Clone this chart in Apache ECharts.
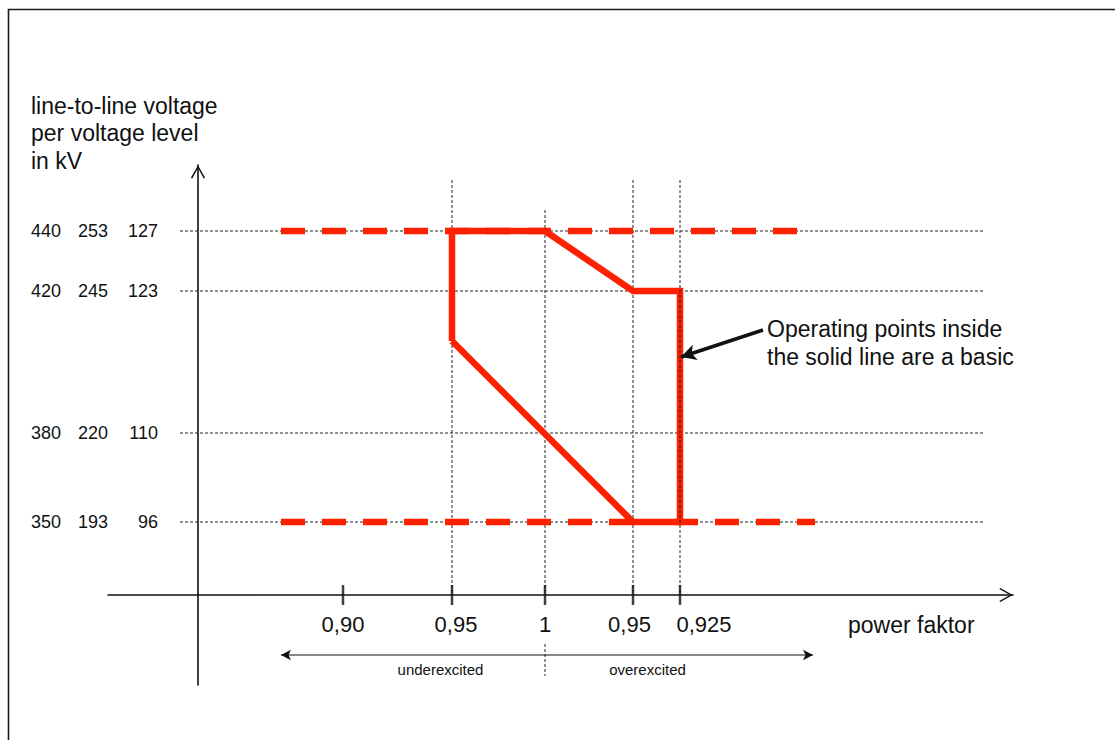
<!DOCTYPE html>
<html><head><meta charset="utf-8">
<script src="https://cdn.jsdelivr.net/npm/echarts@6/dist/echarts.min.js"></script>
<style>html,body{margin:0;padding:0;background:#fff}#c{width:1115px;height:740px}</style>
</head><body><div id="c"></div>
<script>
// ---- data (schematic axis coordinates: the source drawing is not to scale) ----
const pfLabels = ['0,90', '0,95', '1', '0,95', '0,925'];
const pfPos = [145, 254, 347, 435, 482];          // power-factor ticks on the schematic x axis
const levelPos = [364, 304, 162, 73];              // voltage levels on the schematic y axis
const kvLevel380 = ['440', '420', '380', '350'];
const kvLevel220 = ['253', '245', '220', '193'];
const kvLevel110 = ['127', '123', '110', '96'];
const kneePos = 254;                               // lower corner on the 0,95 underexcited line
const dashRangeTop = [83, 599];                    // extent of the dashed red top limit
const dashRangeBottom = [[83, 435], [476, 617]];   // extents of the dashed red bottom limit
const gridExtentX = [-18, 787];
const vGridTop = [415, 385, 415, 415];             // top of the vertical guides (0,95 / 1 / 0,95 / 0,925)
const oneGuideBelow = [-49, -81];
const axisRangeX = [-90, 815];
const axisRangeY = [-90, 430];
const excitationY = -60;
const underTip = 83, overTip = 615;
const noteFrom = [565, 265], noteTip = [483, 238];

const FONT = '"Liberation Sans", Arial, sans-serif';
const RED = '#ff2000';
const INK = '#111';

const [u90, u95, one, o95, o925] = pfPos;
const [L440, L420, L380, L350] = levelPos;

const boundary = [
  [u95, kneePos], [u95, L440], [one, L440], [o95, L420],
  [o925, L420], [o925, L350], [o95, L350], [u95, kneePos]
];

function seg(data, lineStyle, z) {
  return { type: 'line', data, symbol: 'none', silent: true, animation: false, clip: false, z, lineStyle };
}
const series = [];
const guide = { color: '#222', width: 1, type: [3, 2] };
// horizontal guides
levelPos.forEach(y => series.push(seg([[gridExtentX[0], y], [gridExtentX[1], y]], guide, 1)));
// red dashed limits
series.push(seg([[dashRangeTop[0], L440], [dashRangeTop[1], L440]],
  { color: RED, width: 6.5, type: [24, 17], cap: 'butt' }, 2));
dashRangeBottom.forEach(r => series.push(seg([[r[0], L350], [r[1], L350]],
  { color: RED, width: 6.5, type: [24, 17], cap: 'butt' }, 2)));
// solid boundary
series.push(seg(boundary, { color: RED, width: 6.5, type: 'solid', join: 'miter', cap: 'butt' }, 3));
// vertical guides (the 0,925 one shows through the red line)
[u95, one, o95, o925].forEach((x, i) => series.push(seg([[x, vGridTop[i]], [x, 0]], guide, i === 3 ? 4 : 1)));
series.push(seg([[one, oneGuideBelow[0]], [one, oneGuideBelow[1]]], guide, 4));
// tick marks crossing the x axis
series.push({
  type: 'scatter', data: pfPos.map(x => [x, 0]), symbol: 'rect', symbolSize: [2.5, 20], clip: false,
  itemStyle: { color: INK }, silent: true, animation: false, z: 5
});
// arrows (1 data unit = 1 px on both axes, so the direction is taken from the data)
function arrowSeries(from, to, size, width) {
  const rot = Math.atan2(to[1] - from[1], to[0] - from[0]) * 180 / Math.PI - 90;
  return {
    type: 'line', data: [from, to], silent: true, animation: false, clip: false, z: 6,
    showSymbol: true, showAllSymbol: true,
    symbol: (v, p) => p.dataIndex === 1 ? 'arrow' : 'none',
    symbolSize: size, symbolRotate: rot, symbolKeepAspect: false,
    itemStyle: { color: INK, borderWidth: 0 },
    lineStyle: { color: INK, width, type: 'solid' }
  };
}
series.push(arrowSeries([one, excitationY], [underTip, excitationY], [8, 10], 1));
series.push(arrowSeries([one, excitationY], [overTip, excitationY], [8, 10], 1));
series.push(arrowSeries(noteFrom, noteTip, [12, 15], 3.5));

const chevron = 'path://M50,0 L100,88 L92,96 L50,20 L8,96 L0,88 Z';
const axisLineStyle = { color: INK, width: 1.6 };

const option = {
  backgroundColor: '#ffffff',
  animation: false,
  grid: { left: 108, right: 102, top: 165, bottom: 55, containLabel: false, outerBoundsMode: 'none' },
  xAxis: {
    type: 'value', min: axisRangeX[0], max: axisRangeX[1], interval: 905, offset: -90,
    axisLine: { onZero: false, symbol: ['none', chevron], symbolSize: [14, 14], symbolOffset: [0, -7],
      lineStyle: axisLineStyle },
    axisTick: { show: false }, splitLine: { show: false },
    axisLabel: {
      customValues: pfPos, margin: 18, color: '#111', fontFamily: FONT, fontSize: 22,
      formatter: v => {
        const i = pfPos.indexOf(v);
        const style = ['n', 'p', 'n', 'q', 'r'][i];
        return '{' + style + '|' + pfLabels[i] + '}';
      },
      rich: {
        n: { fontFamily: FONT, fontSize: 22, color: '#111' },
        p: { fontFamily: FONT, fontSize: 22, color: '#111', padding: [0, 0, 0, 8] },
        q: { fontFamily: FONT, fontSize: 22, color: '#111', padding: [0, 7, 0, 0] },
        r: { fontFamily: FONT, fontSize: 22, color: '#111', padding: [0, 0, 0, 48] }
      }
    }
  },
  yAxis: {
    type: 'value', min: axisRangeY[0], max: axisRangeY[1], interval: 520, offset: -90,
    axisLine: { onZero: false, symbol: ['none', chevron], symbolSize: [14, 14], symbolOffset: [0, -7],
      lineStyle: axisLineStyle },
    axisTick: { show: false }, splitLine: { show: false },
    axisLabel: {
      customValues: levelPos, margin: 40, color: '#111', fontFamily: FONT, fontSize: 18,
      formatter: v => {
        const i = levelPos.indexOf(v);
        return '{a|' + kvLevel380[i] + '}{b|' + kvLevel220[i] + '}{c|' + kvLevel110[i] + '}';
      },
      rich: {
        a: { width: 44, align: 'left', fontFamily: FONT, fontSize: 18, color: '#111' },
        b: { width: 33, align: 'right', fontFamily: FONT, fontSize: 18, color: '#111' },
        c: { width: 50, align: 'right', fontFamily: FONT, fontSize: 18, color: '#111' }
      }
    }
  },
  graphic: [
    { type: 'rect', shape: { x: 8.5, y: 9.5, width: 1300, height: 900 },
      style: { fill: 'none', stroke: '#1a1a1a', lineWidth: 1.6 }, silent: true },
    ...['line-to-line voltage', 'per voltage level', 'in kV'].map((t, i) => ({
      type: 'text', x: 31, y: 105.5 + i * 27.5, silent: true,
      style: { text: t, font: '23px ' + FONT, fill: '#111', textAlign: 'left', textVerticalAlign: 'middle', align: 'left', verticalAlign: 'middle' }
    })),
    ...['Operating points inside', 'the solid line are a basic'].map((t, i) => ({
      type: 'text', x: 767, y: 329 + i * 28, silent: true,
      style: { text: t, font: '23px ' + FONT, fill: '#111', textAlign: 'left', textVerticalAlign: 'middle', align: 'left', verticalAlign: 'middle' }
    })),
    { type: 'text', x: 848, y: 625, silent: true,
      style: { text: 'power faktor', font: '23px ' + FONT, fill: '#111', textAlign: 'left', textVerticalAlign: 'middle', align: 'left', verticalAlign: 'middle' } },
    { type: 'text', x: 440.5, y: 669, silent: true,
      style: { text: 'underexcited', font: '15px ' + FONT, fill: '#111', textAlign: 'center', textVerticalAlign: 'middle', align: 'center', verticalAlign: 'middle' } },
    { type: 'text', x: 647.5, y: 669, silent: true,
      style: { text: 'overexcited', font: '15px ' + FONT, fill: '#111', textAlign: 'center', textVerticalAlign: 'middle', align: 'center', verticalAlign: 'middle' } }
  ],
  series
};
const chart = echarts.init(document.getElementById('c'), null, { renderer: 'svg' });
chart.setOption(option);
</script>
</body></html>
